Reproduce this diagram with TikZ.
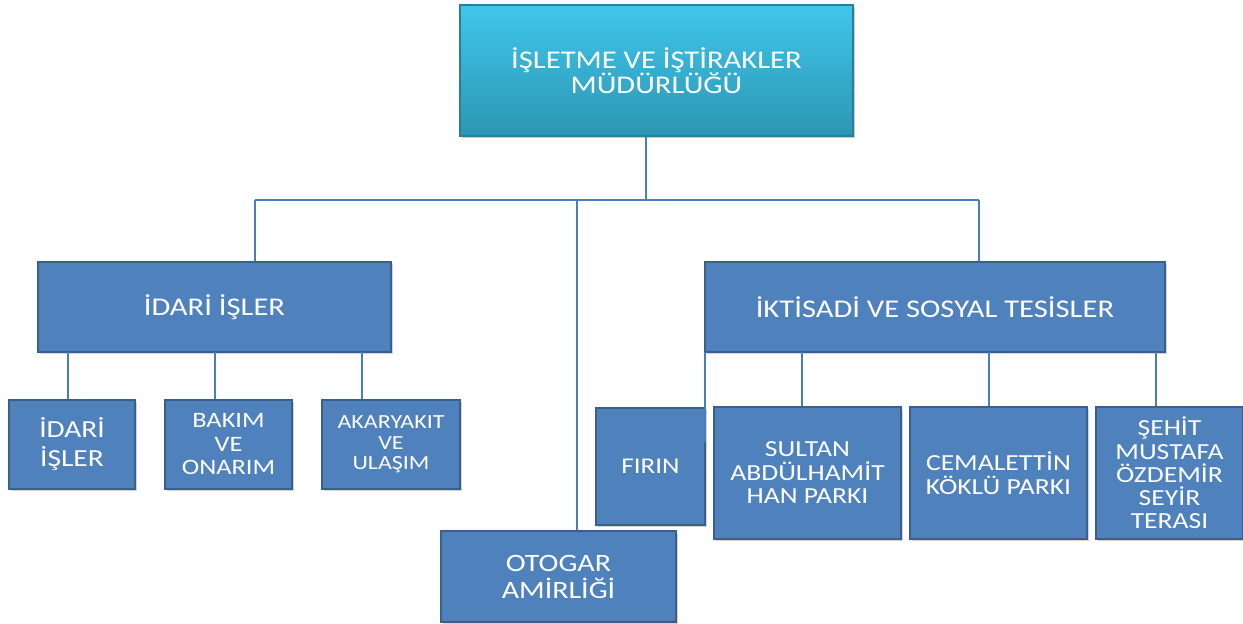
\documentclass[tikz,border=0pt]{standalone}
\usepackage{fontspec}
\setmainfont[FakeStretch=1.2]{Carlito}
\usetikzlibrary{shadows}
\definecolor{boxfill}{HTML}{4F81BD}
\definecolor{boxdraw}{HTML}{3A5F8B}
\definecolor{linec}{HTML}{4A7EBB}
\definecolor{toptop}{HTML}{40C6EA}
\definecolor{topbot}{HTML}{2C96B3}
\definecolor{topdraw}{HTML}{2A7F98}
\begin{document}
\begin{tikzpicture}[x=1pt,y=-1pt,
  unit/.style={draw=boxdraw,line width=2.5pt,fill=boxfill,text=white,align=center,inner sep=1pt,
    drop shadow={shadow xshift=1.5pt,shadow yshift=-1.5pt,opacity=0.35}},
  topbox/.style={draw=topdraw,line width=1.5pt,top color=toptop,bottom color=topbot,text=white,align=center,
    drop shadow={shadow xshift=2pt,shadow yshift=-2pt,opacity=0.4}},
  conn/.style={draw=linec,line width=1.4pt}]
\useasboundingbox (0,0) rectangle (1243,624);
\node[topbox,minimum width=393pt,minimum height=131pt,font=\fontsize{25.5}{25.5}\selectfont] (top) at (656.5,70.5) {İŞLETME VE İŞTİRAKLER\\MÜDÜRLÜĞÜ};
\node[unit,minimum width=353pt,minimum height=90pt,font=\fontsize{25.5}{28}\selectfont] (idari) at (214.5,307) {İDARİ İŞLER};
\node[unit,minimum width=460pt,minimum height=90pt,font=\fontsize{25.5}{28}\selectfont] (ikt) at (935,307) {İKTİSADİ VE SOSYAL TESİSLER};
\node[unit,minimum width=126pt,minimum height=89pt,font=\fontsize{24.5}{29}\selectfont] (s1) at (72,444.5) {İDARİ\\İŞLER};
\node[unit,minimum width=127pt,minimum height=89pt,font=\fontsize{22}{23.5}\selectfont] (s2) at (228.5,444.5) {BAKIM\\VE\\ONARIM};
\node[unit,minimum width=138pt,minimum height=89pt,font=\fontsize{20}{20.5}\selectfont] (s3) at (391,444.5) {AKARYAKIT\\VE\\ULAŞIM};
\node[unit,minimum width=109pt,minimum height=117pt,font=\fontsize{22.5}{23.5}\selectfont] (firin) at (650.5,466.5) {FIRIN};
\node[unit,minimum width=187pt,minimum height=132pt,font=\fontsize{23}{23.5}\selectfont] (sultan) at (807.5,473) {SULTAN\\ABDÜLHAMİT\\HAN PARKI};
\node[unit,minimum width=177pt,minimum height=132pt,font=\fontsize{23}{23.5}\selectfont] (cem) at (998.5,473) {CEMALETTİN\\KÖKLÜ PARKI};
\node[unit,minimum width=147pt,minimum height=132pt,font=\fontsize{23}{23.3}\selectfont] (sehit) at (1169.5,473) {ŞEHİT\\MUSTAFA\\ÖZDEMİR\\SEYİR\\TERASI};
\node[unit,minimum width=235pt,minimum height=91pt,font=\fontsize{25}{27}\selectfont] (otogar) at (558.5,576.5) {OTOGAR\\AMİRLİĞİ};
% connectors
\coordinate (bl) at (255,200);
\coordinate (bm) at (577,200);
\coordinate (br) at (979,200);
\coordinate (bt) at (646,200);
\draw[conn] (bt |- top.south) -- (bt);
\draw[conn] (bl) -- (br);
\draw[conn] (bl) -- (bl |- idari.north);
\draw[conn] (bm) -- (bm |- otogar.north);
\draw[conn] (br) -- (br |- ikt.north);
\coordinate (c1) at (68,352);
\coordinate (c2) at (215,352);
\coordinate (c3) at (362,352);
\draw[conn] (c1) -- (c1 |- s1.north);
\draw[conn] (c2) -- (c2 |- s2.north);
\draw[conn] (c3) -- (c3 |- s3.north);
\coordinate (d1) at (705,352);
\coordinate (d1e) at (705,442);
\coordinate (d2) at (802,352);
\coordinate (d3) at (989,352);
\coordinate (d4) at (1156,352);
\draw[conn] (d1) -- (d1e);
\draw[conn] (d2) -- (d2 |- sultan.north);
\draw[conn] (d3) -- (d3 |- cem.north);
\draw[conn] (d4) -- (d4 |- sehit.north);
\end{tikzpicture}
\end{document}
